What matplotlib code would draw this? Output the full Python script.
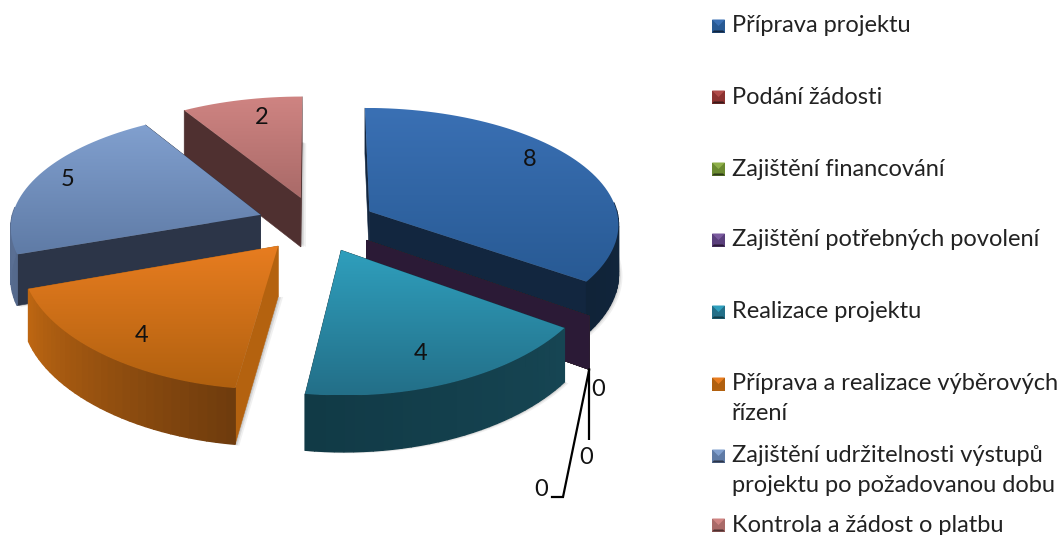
import numpy as np
import matplotlib
matplotlib.use('Agg')
import matplotlib.pyplot as plt
from matplotlib.patches import Polygon
from matplotlib.colors import to_rgb

# data
categories = ["Příprava projektu", "Podání žádosti", "Zajištění financování",
              "Zajištění potřebných povolení", "Realizace projektu",
              "Příprava a realizace výběrových\nřízení",
              "Zajištění udržitelnosti výstupů\nprojektu po požadovanou dobu",
              "Kontrola a žádost o platbu"]
values = [8, 0, 0, 0, 4, 4, 5, 2]

# colours
top_light = ['#3a70b4', '#b04a48', '#8fb04a', '#7a5a9e', '#2f9fbd', '#e87d20', '#81a0cf', '#cf8482']
top_dark = ['#285a94', '#8c3230', '#6a8a30', '#5a3f7c', '#236f88', '#b0600f', '#5f7ba6', '#a96a68']
cut_col = ['#12263f', '#3a1a1a', '#2e3a1a', '#2b1a36', '#123c48', '#b4620f', '#2c3548', '#4f3030']
rim_a = ['#15304f', '#3a1a1a', '#2e3a1a', '#2b1a36', '#164553', '#bd6612', '#6880a8', '#7a5050']
rim_b = ['#102338', '#3a1a1a', '#2e3a1a', '#2b1a36', '#113a46', '#6f3c0d', '#55698c', '#5a3a3a']

# geometry of the pie on the canvas
cx, cy = 316.7, 224
rx, ry = 250, 115
explode = 0.24
depth = 50

fig = plt.figure(figsize=(10.63, 5.35), dpi=100)
ax = fig.add_axes([0, 0, 1, 1])


def project(u, v):
    v = np.asarray(v, dtype=float)
    s = 1 / (1 - 0.149 * v)
    s_back = 1 / (1 - 0.09 * v)
    return cx + u * rx * s ** 0.65, cy + v * ry * np.where(v > 0, s, s_back), depth * s ** 0.6


def wedge_points(a0, a1, ex, ey):
    n = max(2, int((a1 - a0) / 2) + 2)
    ang = np.linspace(a0, a1, n)
    rad = np.radians(ang)
    return np.sin(rad) + ex, -np.cos(rad) + ey, ang


def gradient_poly(pts, c0, c1, zorder):
    pts = np.array(pts)
    poly = Polygon(pts, closed=True, facecolor='none', edgecolor='none', zorder=zorder)
    ax.add_patch(poly)
    t = np.linspace(0, 1, 128)[:, None]
    img = (1 - t)[:, :, None] * np.array(to_rgb(c0)) + t[:, :, None] * np.array(to_rgb(c1))
    im = ax.imshow(img, extent=(pts[:, 0].min(), pts[:, 0].max(), pts[:, 1].max(), pts[:, 1].min()),
                   aspect='auto', zorder=zorder, interpolation='bilinear')
    im.set_clip_path(poly)


def face(pts, col, z, lw=0.4):
    ax.add_patch(Polygon(pts, closed=True, facecolor=col, edgecolor=col, lw=lw, zorder=z))


# angles from the values, clockwise from 12 o'clock
total = sum(values)
cum = np.cumsum([0] + values) * 360 / total
wedges = []
for i, val in enumerate(values):
    mid = np.radians((cum[i] + cum[i + 1]) / 2)
    wedges.append((-np.cos(mid), i))
wedges.sort()

z = 2
zero_tip = None
for _, i in wedges:
    a0, a1 = cum[i], cum[i + 1]
    mid = np.radians((a0 + a1) / 2)
    ex, ey = explode * np.sin(mid), -explode * np.cos(mid)
    us, vs, ang = wedge_points(a0, a1, ex, ey)
    ax0, ay0, d0 = project(ex, ey)
    xs, ys, ds = project(us, vs)

    # soft shadow below and right of the outer wall
    if values[i] > 0:
        for off, al in [(5, 0.10), (3, 0.16), (1.5, 0.2)]:
            sh = list(zip(xs + off * 0.8, ys + ds + off * 0.3)) + [(ax0 + off, ay0 + d0)]
            face(sh, (0.45, 0.45, 0.45, al), z, lw=0)
        z += 1

    # cut faces
    for k in (0, -1):
        pts = [(ax0, ay0), (xs[k], ys[k]), (xs[k], ys[k] + ds[k]), (ax0, ay0 + d0)]
        face(pts, cut_col[i], z)
    z += 1
    if values[i] == 0:
        zero_tip = (xs[0], ys[0] + ds[0])
        continue

    # outer wall, strip by strip, only the part turned to the viewer
    c0, c1 = np.array(to_rgb(rim_a[i])), np.array(to_rgb(rim_b[i]))
    for j in range(len(xs) - 1):
        if np.cos(np.radians(ang[j])) > 0.05 and np.cos(np.radians(ang[j + 1])) > 0.05:
            continue
        t = j / max(1, len(xs) - 2)
        if a0 > 180:
            t = 1 - t
        col = c0 * (1 - t) + c1 * t
        face([(xs[j], ys[j]), (xs[j + 1], ys[j + 1]), (xs[j + 1], ys[j + 1] + ds[j + 1]),
              (xs[j], ys[j] + ds[j])], col, z, lw=1)
    z += 1

    # top surface
    gradient_poly([(ax0, ay0)] + list(zip(xs, ys)), top_light[i], top_dark[i], z)
    z += 1

# leader lines of the zero slices
tx, ty = zero_tip
ax.plot([tx, tx], [ty, 440], color='black', lw=1.6, zorder=z, solid_capstyle='butt')
ax.plot([tx, 563, 552], [ty, 497, 497], color='black', lw=1.6, zorder=z, solid_joinstyle='miter')

# data labels
label_x = [530, 598, 586, 541, 421, 142, 68, 262]
label_y = [160, 390, 457, 489, 354, 335, 180, 118]
for i, val in enumerate(values):
    ax.text(label_x[i], label_y[i], str(val), fontsize=17, family='Lato', color='#111111',
            ha='center', va='center', zorder=z + 1)

# legend
leg_y = [26, 97, 169, 240, 312, 384, 456, 525]
for i, name in enumerate(categories):
    y = leg_y[i]
    x0, x1 = 712, 725
    y0, y1 = y - 6.5, y + 6.5
    xm, ym = (x0 + x1) / 2, y
    face([(x0, y0), (x1, y0), (x1, y1), (x0, y1)], top_dark[i], z, lw=0)
    face([(x0, y0), (x1, y0), (xm, ym)], top_light[i], z + 1, lw=0)
    face([(x0 + 2, y1 - 2), (x1 - 2, y1 - 2), (x1, y1), (x0, y1)], cut_col[i], z + 1, lw=0)
    for k, line in enumerate(name.split("\n")):
        ax.text(732, y + k * 30, line, fontsize=17, family='Lato', color='#222222',
                ha='left', va='center', zorder=z)

ax.set_xlim(0, 1063)
ax.set_ylim(535, 0)
ax.axis('off')
plt.savefig('out.png', dpi=100)
